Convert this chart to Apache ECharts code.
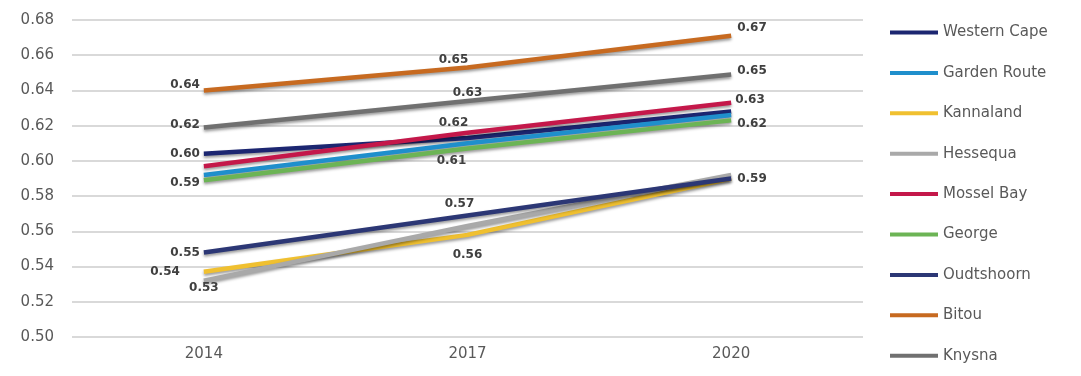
<!DOCTYPE html>
<html>
<head>
<meta charset="utf-8">
<script src="https://cdn.jsdelivr.net/npm/echarts@6/dist/echarts.min.js"></script>
<style>
  html, body { margin: 0; padding: 0; background: #fff; }
  #chart { width: 1081px; height: 376px; }
</style>
</head>
<body>
<div id="chart"></div>
<script>
  var years = ['2014', '2017', '2020']
  var seriesNames = ['Western Cape', 'Garden Route', 'Kannaland', 'Hessequa', 'Mossel Bay', 'George', 'Oudtshoorn', 'Bitou', 'Knysna']

  var westernCape = [0.604, 0.613, 0.628]
  var gardenRoute = [0.592, 0.610, 0.626]
  var kannaland = [0.537, 0.558, 0.590]
  var hessequa = [0.532, 0.563, 0.592]
  var mosselBay = [0.597, 0.616, 0.633]
  var george = [0.589, 0.607, 0.623]
  var oudtshoorn = [0.548, 0.569, 0.590]
  var bitou = [0.640, 0.653, 0.671]
  var knysna = [0.619, 0.634, 0.649]

  var yTicks = ['0.50', '0.52', '0.54', '0.56', '0.58', '0.60', '0.62', '0.64', '0.66', '0.68']

  var values = [westernCape, gardenRoute, kannaland, hessequa, mosselBay, george, oudtshoorn, bitou, knysna]
  var colors = ['#1c2671', '#1f8fcc', '#f0c030', '#a9a9a9', '#c4184a', '#6cb455', '#2c3775', '#c76a20', '#707070']

  // which points carry a value label, and where it sits
  var labelSpec = {
    'Western Cape': {0: {position: 'left', distance: 4}},
    'Kannaland': {0: {position: 'left', distance: 24}, 1: {position: 'bottom', distance: 14}},
    'Hessequa': {0: {position: 'bottom', distance: 1}},
    'Mossel Bay': {1: {position: 'top', distance: 4, offset: [-14, 0]}, 2: {position: 'right', distance: 4, offset: [0, -3]}},
    'George': {0: {position: 'left', distance: 4, offset: [0, 3]}, 1: {position: 'bottom', distance: 6, offset: [-16, 0]}, 2: {position: 'right', distance: 6, offset: [0, 3]}},
    'Oudtshoorn': {0: {position: 'left', distance: 4}, 1: {position: 'top', distance: 6, offset: [-8, 0]}, 2: {position: 'right', distance: 6}},
    'Bitou': {0: {position: 'left', distance: 4, offset: [0, -6]}, 1: {position: 'top', distance: 2, offset: [-14, 0]}, 2: {position: 'right', distance: 6, offset: [0, -8]}},
    'Knysna': {0: {position: 'left', distance: 4, offset: [0, -3]}, 1: {position: 'top', distance: 2}, 2: {position: 'right', distance: 6, offset: [0, -4]}}
  }

  var chart = echarts.init(document.getElementById('chart'))

  var series = seriesNames.map(function(name, i) {
    var spec = labelSpec[name] || {}
    return {
      name: name,
      type: 'line',
      symbol: 'circle',
      symbolSize: 0,
      showSymbol: true,
      z: 2 + i,
      lineStyle: {
        width: 4.5,
        color: colors[i],
        shadowColor: 'rgba(0,0,0,0.4)',
        shadowBlur: 3,
        shadowOffsetY: 2
      },
      itemStyle: {color: colors[i]},
      data: values[i].map(function(v, j) {
        var item = {value: v}
        if (spec[j]) {
          item.label = Object.assign({
            show: true,
            color: '#404040',
            fontSize: 12,
            fontWeight: 'bold',
            fontFamily: 'DejaVu Sans',
            formatter: function(p) { return p.value.toFixed(2) }
          }, spec[j])
        }
        return item
      })
    }
  })

  var option = {
    animation: false,
    color: colors,
    grid: {left: 72, right: 218, top: 20, bottom: 39},
    legend: {
      orient: 'vertical',
      left: 885,
      top: 20,
      icon: 'rect',
      itemWidth: 48,
      itemHeight: 4,
      itemGap: 25.4,
      data: seriesNames,
      textStyle: {color: '#595959', fontSize: 15, fontFamily: 'DejaVu Sans'}
    },
    xAxis: {
      type: 'category',
      data: years,
      boundaryGap: true,
      axisLine: {show: false},
      axisTick: {show: false},
      axisLabel: {color: '#595959', fontSize: 15, fontFamily: 'DejaVu Sans', margin: 10}
    },
    yAxis: {
      type: 'value',
      min: 0.5,
      max: 0.68,
      interval: 0.02,
      axisLine: {show: false},
      axisTick: {show: false},
      splitLine: {lineStyle: {color: '#d9d9d9', width: 2}},
      axisLabel: {
        color: '#595959',
        fontSize: 15,
        fontFamily: 'DejaVu Sans',
        margin: 18,
        formatter: function(v) {
          var idx = Math.round((v - 0.5) / 0.02)
          return yTicks[idx]
        }
      }
    },
    series: series
  }

  chart.setOption(option)
</script>
</body>
</html>
